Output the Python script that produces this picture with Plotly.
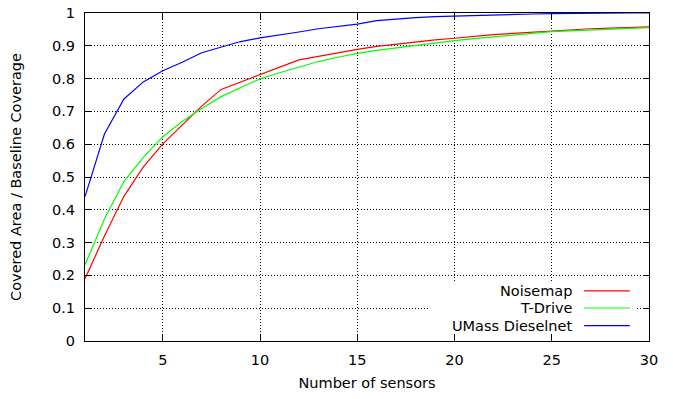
import plotly.graph_objects as go

sensors = list(range(1, 31))
noisemap = [0.19, 0.32, 0.441, 0.531, 0.601, 0.659, 0.716, 0.767, 0.789, 0.811, 0.834, 0.857,
            0.868, 0.879, 0.889, 0.898, 0.905, 0.912, 0.918, 0.923, 0.929, 0.934, 0.938, 0.942,
            0.946, 0.949, 0.952, 0.954, 0.956, 0.958]
tdrive = [0.232, 0.372, 0.486, 0.560, 0.623, 0.669, 0.709, 0.745, 0.773, 0.799, 0.818, 0.836,
          0.852, 0.865, 0.877, 0.886, 0.894, 0.902, 0.909, 0.916, 0.922, 0.928, 0.933, 0.938,
          0.943, 0.946, 0.949, 0.951, 0.953, 0.955]
umass = [0.44, 0.631, 0.738, 0.790, 0.824, 0.850, 0.879, 0.897, 0.913, 0.924, 0.932, 0.942,
         0.952, 0.960, 0.966, 0.977, 0.982, 0.986, 0.989, 0.991, 0.993, 0.995, 0.996, 0.997,
         0.998, 0.999, 0.999, 1.0, 1.0, 1.0]

series_names = ["Noisemap", "T-Drive", "UMass Dieselnet"]
series_values = [noisemap, tdrive, umass]
series_colors = ["#ff0000", "#00ff00", "#0000ff"]

x_ticks = [5, 10, 15, 20, 25, 30]
y_ticks = [0, 0.1, 0.2, 0.3, 0.4, 0.5, 0.6, 0.7, 0.8, 0.9, 1]
y_tick_labels = ["0", "0.1", "0.2", "0.3", "0.4", "0.5", "0.6", "0.7", "0.8", "0.9", "1"]

FONT = "DejaVu Sans"
FS = 14.5
GRID_DASH = "1px,2px"

fig = go.Figure()
for name, vals, col in zip(series_names, series_values, series_colors):
    fig.add_trace(go.Scatter(x=sensors, y=vals, mode="lines", name=name,
                             line=dict(color=col, width=1.2), showlegend=False, hoverinfo="skip"))

# manual gnuplot-style key: white box hiding the grid, right-aligned text, sample line on the right
shapes = [dict(type="rect", xref="paper", yref="paper", x0=0.612, x1=0.977, y0=0.022, y1=0.18,
               fillcolor="white", line=dict(width=0), layer="above")]
annotations = []
key_y = [0.153, 0.1006, 0.0466]
for name, col, ky in zip(series_names, series_colors, key_y):
    shapes.append(dict(type="line", xref="paper", yref="paper", x0=0.885, x1=0.966, y0=ky, y1=ky,
                       line=dict(color=col, width=1.2), layer="above"))
    annotations.append(dict(xref="paper", yref="paper", x=0.867, y=ky, text=name, showarrow=False,
                            xanchor="right", yanchor="middle", font=dict(family=FONT, size=FS, color="black")))

fig.update_layout(
    width=673, height=399,
    margin=dict(l=85, r=24, t=13, b=58, autoexpand=False),
    plot_bgcolor="white", paper_bgcolor="white",
    font=dict(family=FONT, size=FS, color="black"),
    shapes=shapes, annotations=annotations,
    showlegend=False, hovermode=False,
)
fig.update_xaxes(
    range=[1, 30], tickvals=x_ticks, ticktext=[str(v) for v in x_ticks],
    showline=True, linecolor="black", linewidth=1, mirror="ticks",
    ticks="inside", ticklen=6, tickcolor="black", tickwidth=1,
    showgrid=True, gridcolor="black", gridwidth=1, griddash=GRID_DASH,
    zeroline=False, ticklabelstandoff=6, automargin=False,
    title=dict(text="Number of sensors", standoff=10, font=dict(family=FONT, size=FS)),
)
fig.update_yaxes(
    range=[0, 1], tickvals=y_ticks, ticktext=y_tick_labels,
    showline=True, linecolor="black", linewidth=1, mirror="ticks",
    ticks="inside", ticklen=6, tickcolor="black", tickwidth=1,
    showgrid=True, gridcolor="black", gridwidth=1, griddash=GRID_DASH,
    zeroline=False, ticklabelstandoff=6, automargin=False,
    title=dict(text="Covered Area / Baseline Coverage", standoff=26, font=dict(family=FONT, size=FS)),
)

fig.write_html("out.html", config={"displayModeBar": False},
               post_script="document.body.style.margin='0';")
